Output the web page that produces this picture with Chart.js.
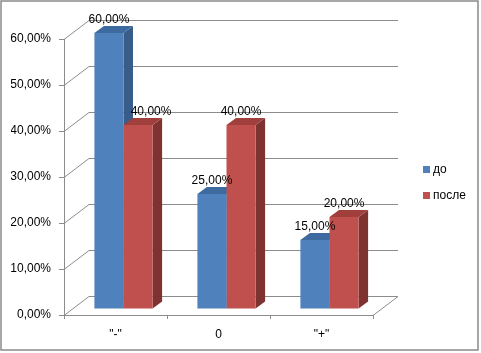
<!DOCTYPE html>
<html>
<head>
<meta charset="utf-8">
<script src="https://cdn.jsdelivr.net/npm/chart.js@4/dist/chart.umd.min.js"></script>
<style>
  html, body { margin: 0; padding: 0; background: #fff; }
  #wrap { position: relative; width: 481px; height: 353px; }
  #legend { position: absolute; left: 423px; top: 156px; font: 12px "Liberation Sans", Arial, sans-serif; color: #000; }
  #legend div { height: 26px; display: flex; align-items: center; }
  #legend span { display: inline-block; width: 7px; height: 7px; margin-right: 3px; }
</style>
</head>
<body>
<div id="wrap">
  <canvas id="chart" width="481" height="353"></canvas>
  <div id="legend"></div>
</div>
<script>
// ====== Data ======
const CATEGORIES = ['"-"', '0', '"+"'];
const SERIES_NAMES = ['до', 'после'];
const BEFORE = [0.60, 0.25, 0.15];
const AFTER = [0.40, 0.40, 0.20];
const Y_TICKS = [0, 0.1, 0.2, 0.3, 0.4, 0.5, 0.6];

// ====== Style ======
const FRONT = ['#4F81BD', '#C0504D'];
const SIDE = ['#385D8A', '#7F3331'];
const TOP = ['#3D6B9F', '#A03F3C'];
const GRID = '#8C8C8C';
const FONT = '"Liberation Sans", Arial, sans-serif';
const WALL = { dx: 25, dy: -19 };   // depth of back wall
const SHIFT = { dx: 8, dy: -6 };    // bars sit inside the depth
const BAR = { dx: 9.5, dy: -7 };    // bar depth

function pct(v) {
  return (v * 100).toFixed(2).replace('.', ',') + '%';
}

// ====== Legend ======
document.getElementById('legend').innerHTML = SERIES_NAMES.map((n, i) =>
  `<div><span style="background:${FRONT[i]}"></span>${n}</div>`).join('');

// ====== 3D plugin ======
const pseudo3d = {
  id: 'pseudo3d',
  beforeDraw(chart) {
    const ctx = chart.ctx;
    ctx.save();
    ctx.strokeStyle = '#8A8A8A';
    ctx.lineWidth = 1.5;
    ctx.strokeRect(1, 1, 477, 349);
    ctx.restore();
  },
  beforeDatasetsDraw(chart) {
    const ctx = chart.ctx;
    const { left, right, bottom } = chart.chartArea;
    const ys = chart.scales.y;
    ctx.save();
    ctx.strokeStyle = GRID;
    ctx.lineWidth = 1;
    // back wall grid + side wall diagonals
    Y_TICKS.forEach(v => {
      const y = Math.round(ys.getPixelForValue(v)) + 0.5;
      ctx.beginPath();
      ctx.moveTo(left, y);
      ctx.lineTo(left + WALL.dx, y + WALL.dy);
      ctx.lineTo(right + WALL.dx, y + WALL.dy);
      ctx.stroke();
    });
    // floor right edge
    ctx.beginPath();
    ctx.moveTo(right, bottom + 0.5);
    ctx.lineTo(right + WALL.dx, bottom + 0.5 + WALL.dy);
    ctx.stroke();

    // side and top faces of bars
    chart.data.datasets.forEach((ds, di) => {
      chart.getDatasetMeta(di).data.forEach(el => {
        const x0 = el.x - el.width / 2 + SHIFT.dx;
        const x1 = el.x + el.width / 2 + SHIFT.dx;
        const yt = el.y + SHIFT.dy;
        const yb = el.base + SHIFT.dy;
        ctx.fillStyle = SIDE[di];
        ctx.beginPath();
        ctx.moveTo(x1, yt);
        ctx.lineTo(x1 + BAR.dx, yt + BAR.dy);
        ctx.lineTo(x1 + BAR.dx, yb + BAR.dy);
        ctx.lineTo(x1, yb);
        ctx.closePath();
        ctx.fill();
        ctx.fillStyle = TOP[di];
        ctx.beginPath();
        ctx.moveTo(x0, yt);
        ctx.lineTo(x0 + BAR.dx, yt + BAR.dy);
        ctx.lineTo(x1 + BAR.dx, yt + BAR.dy);
        ctx.lineTo(x1, yt);
        ctx.closePath();
        ctx.fill();
      });
    });
    ctx.restore();
    // front faces drawn by Chart.js, moved into the depth
    ctx.save();
    ctx.translate(SHIFT.dx, SHIFT.dy);
  },
  afterDatasetsDraw(chart, args, opts) {
    const ctx = chart.ctx;
    ctx.restore();
    ctx.save();
    ctx.fillStyle = '#000';
    ctx.font = '12px ' + FONT;
    ctx.textAlign = 'center';
    ctx.textBaseline = 'middle';
    chart.data.datasets.forEach((ds, di) => {
      chart.getDatasetMeta(di).data.forEach((el, i) => {
        const nudge = (opts.nudge || {})[di + '-' + i] || 0;
        ctx.fillText(pct(ds.data[i]), el.x + SHIFT.dx + nudge, el.y + SHIFT.dy - 13);
      });
    });
    ctx.restore();
  }
};

// ====== Chart ======
Chart.defaults.font.family = FONT;
Chart.defaults.font.size = 12;
Chart.defaults.color = '#000';

new Chart(document.getElementById('chart'), {
  type: 'bar',
  data: {
    labels: CATEGORIES,
    datasets: [
      { label: SERIES_NAMES[0], data: BEFORE, backgroundColor: FRONT[0] },
      { label: SERIES_NAMES[1], data: AFTER, backgroundColor: FRONT[1] }
    ]
  },
  options: {
    responsive: false,
    animation: false,
    events: [],
    layout: { padding: { left: 11, top: 39, right: 108, bottom: 14 } },
    datasets: { bar: { categoryPercentage: 0.565, barPercentage: 1, borderWidth: 0 } },
    plugins: {
      legend: { display: false },
      tooltip: { enabled: false },
      pseudo3d: { nudge: { '1-0': 13 } }
    },
    scales: {
      x: {
        grid: { drawOnChartArea: false, drawTicks: true, tickLength: 4, color: GRID },
        border: { color: GRID },
        ticks: { padding: 8 },
        afterFit: s => { s.height = 24; }
      },
      y: {
        min: 0,
        max: 0.6,
        afterBuildTicks: s => { s.ticks = Y_TICKS.map(v => ({ value: v })); },
        grid: { drawOnChartArea: false, drawTicks: true, tickLength: 5, color: GRID },
        border: { color: GRID },
        ticks: { padding: 8, callback: v => pct(v) },
        afterFit: s => { s.width = 53; }
      }
    }
  },
  plugins: [pseudo3d]
});
</script>
</body>
</html>
